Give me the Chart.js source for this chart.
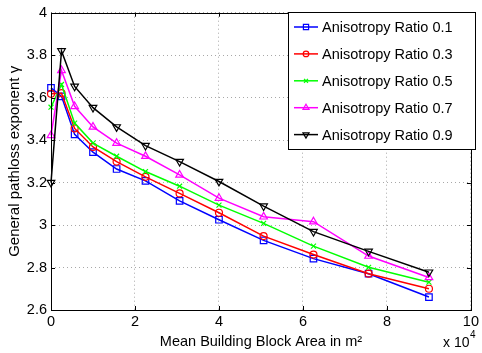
<!DOCTYPE html>
<html>
<head>
<meta charset="utf-8">
<script src="https://cdn.jsdelivr.net/npm/chart.js@4/dist/chart.umd.min.js"></script>
<style>
html, body { margin: 0; padding: 0; background: #fff; }
</style>
</head>
<body>
<canvas id="chart" width="482" height="353"></canvas>
<script>
// block areas (m^2): side lengths 0..300 m squared
var areas = [0, 2500, 5625, 10000, 15625, 22500, 30625, 40000, 50625, 62500, 75625, 90000];
var ratio01 = [3.646, 3.606, 3.427, 3.343, 3.264, 3.208, 3.114, 3.025, 2.928, 2.842, 2.771, 2.661];
var ratio03 = [3.618, 3.621, 3.455, 3.368, 3.299, 3.227, 3.149, 3.058, 2.948, 2.861, 2.771, 2.700];
var ratio05 = [3.555, 3.662, 3.480, 3.386, 3.324, 3.252, 3.183, 3.094, 3.008, 2.901, 2.801, 2.731];
var ratio07 = [3.422, 3.728, 3.559, 3.462, 3.386, 3.324, 3.236, 3.127, 3.039, 3.016, 2.854, 2.753];
var ratio09 = [3.200, 3.820, 3.653, 3.553, 3.462, 3.374, 3.299, 3.205, 3.089, 2.969, 2.876, 2.778];
var seriesLabels = ['Anisotropy Ratio 0.1', 'Anisotropy Ratio 0.3', 'Anisotropy Ratio 0.5',
                    'Anisotropy Ratio 0.7', 'Anisotropy Ratio 0.9'];
var xTicks = [0, 20000, 40000, 60000, 80000, 100000];
var yTicks = [2.6, 2.8, 3.0, 3.2, 3.4, 3.6, 3.8, 4.0];

var FONT = 'Liberation Sans, Arial, Helvetica, sans-serif';
var FS = 14.5;

function points(ys) {
    var out = [];
    for (var i = 0; i < areas.length; i++) {
        out.push({x: areas[i], y: ys[i]});
    }
    return out;
}

function series(i, ys, color, style, radius, rotation) {
    return {
        label: seriesLabels[i],
        data: points(ys),
        borderColor: color,
        backgroundColor: color,
        borderWidth: 1.5,
        pointStyle: style,
        pointRadius: radius,
        pointHoverRadius: radius,
        pointRotation: rotation || 0,
        pointBorderColor: color,
        pointBackgroundColor: 'rgba(0,0,0,0)',
        pointBorderWidth: 1.2,
        showLine: true,
        tension: 0,
        clip: false,
        order: 4 - i
    };
}

var datasets = [
    series(0, ratio01, '#0000ff', 'rect', 4.6),
    series(1, ratio03, '#ff0000', 'circle', 3.5),
    series(2, ratio05, '#00ff00', 'crossRot', 3.5),
    series(3, ratio07, '#ff00ff', 'triangle', 4.4),
    series(4, ratio09, '#000000', 'triangle', 4.4, 180)
];

// box, inward ticks, exponent note and legend, MATLAB style
var matlabFrame = {
    id: 'matlabFrame',
    afterDraw: function(chart) {
        var ctx = chart.ctx;
        var a = chart.chartArea;
        var xs = chart.scales.x, ys = chart.scales.y;
        ctx.save();
        ctx.strokeStyle = '#000';
        ctx.lineWidth = 1;
        ctx.strokeRect(Math.round(a.left) + 0.5, Math.round(a.top) + 0.5,
                       Math.round(a.right - a.left), Math.round(a.bottom - a.top));

        var tl = 4;
        ctx.beginPath();
        xTicks.forEach(function(v) {
            var px = Math.round(xs.getPixelForValue(v)) + 0.5;
            ctx.moveTo(px, a.bottom); ctx.lineTo(px, a.bottom - tl);
            ctx.moveTo(px, a.top); ctx.lineTo(px, a.top + tl);
        });
        yTicks.forEach(function(v) {
            var py = Math.round(ys.getPixelForValue(v)) + 0.5;
            ctx.moveTo(a.left, py); ctx.lineTo(a.left + tl, py);
            ctx.moveTo(a.right, py); ctx.lineTo(a.right - tl, py);
        });
        ctx.stroke();

        // x 10^4
        ctx.fillStyle = '#000';
        ctx.textBaseline = 'alphabetic';
        ctx.textAlign = 'left';
        ctx.font = '14px ' + FONT;
        ctx.fillText('x 10', 443, 347);
        ctx.font = '10px ' + FONT;
        ctx.fillText('4', 470, 338);

        // legend
        var lx = 288.5, ly = 12.5, lw = 187, lh = 137;
        ctx.fillStyle = '#fff';
        ctx.fillRect(lx, ly, lw, lh);
        ctx.strokeStyle = '#000';
        ctx.strokeRect(lx, ly, lw, lh);
        ctx.font = FS + 'px ' + FONT;
        ctx.textBaseline = 'middle';
        chart.data.datasets.forEach(function(ds, i) {
            var y = 27 + i * 26.9;
            ctx.strokeStyle = ds.borderColor;
            ctx.lineWidth = 1.5;
            ctx.beginPath();
            ctx.moveTo(294, y); ctx.lineTo(318, y);
            ctx.stroke();
            ctx.fillStyle = 'rgba(0,0,0,0)';
            ctx.lineWidth = 1.2;
            Chart.helpers.drawPoint(ctx, {
                pointStyle: ds.pointStyle,
                radius: ds.pointRadius * 0.8,
                rotation: ds.pointRotation,
                borderWidth: 1.2
            }, 306, y);
            ctx.fillStyle = '#000';
            ctx.fillText(ds.label, 322, y + 1);
        });
        ctx.restore();
    }
};

var context = document.getElementById('chart').getContext('2d');
var chart = new Chart(context, {
    type: 'scatter',
    data: { datasets: datasets },
    options: {
        responsive: false,
        animation: false,
        devicePixelRatio: 1,
        layout: { padding: { top: 12, right: 7, left: 0, bottom: 0 } },
        plugins: {
            legend: { display: false },
            tooltip: { enabled: false }
        },
        scales: {
            x: {
                type: 'linear',
                min: 0,
                max: 100000,
                afterFit: function(scale) { scale.height = 43; },
                afterBuildTicks: function(scale) {
                    scale.ticks = xTicks.map(function(v) { return {value: v}; });
                },
                ticks: {
                    color: '#000',
                    font: { family: FONT, size: FS },
                    padding: 3,
                    maxRotation: 0,
                    callback: function(v) { return String(v / 10000); }
                },
                grid: {
                    color: '#a8a8a8',
                    lineWidth: 1,
                    drawTicks: false
                },
                border: { display: false, dash: [1, 3] },
                title: {
                    display: true,
                    text: 'Mean Building Block Area in m\u00b2',
                    color: '#000',
                    font: { family: FONT, size: FS },
                    padding: { top: 0, bottom: 2 }
                }
            },
            y: {
                type: 'linear',
                min: 2.6,
                max: 4,
                afterFit: function(scale) { scale.width = 51; },
                afterBuildTicks: function(scale) {
                    scale.ticks = yTicks.map(function(v) { return {value: v}; });
                },
                ticks: {
                    color: '#000',
                    font: { family: FONT, size: FS },
                    padding: 4,
                    callback: function(v) { return String(Number(v.toFixed(1))); }
                },
                grid: {
                    color: '#a8a8a8',
                    lineWidth: 1,
                    drawTicks: false
                },
                border: { display: false, dash: [1, 3] },
                title: {
                    display: true,
                    text: 'General pathloss exponent \u03b3',
                    color: '#000',
                    font: { family: FONT, size: 15 },
                    padding: { top: 6, bottom: 0 }
                }
            }
        }
    },
    plugins: [matlabFrame]
});
</script>
</body>
</html>
